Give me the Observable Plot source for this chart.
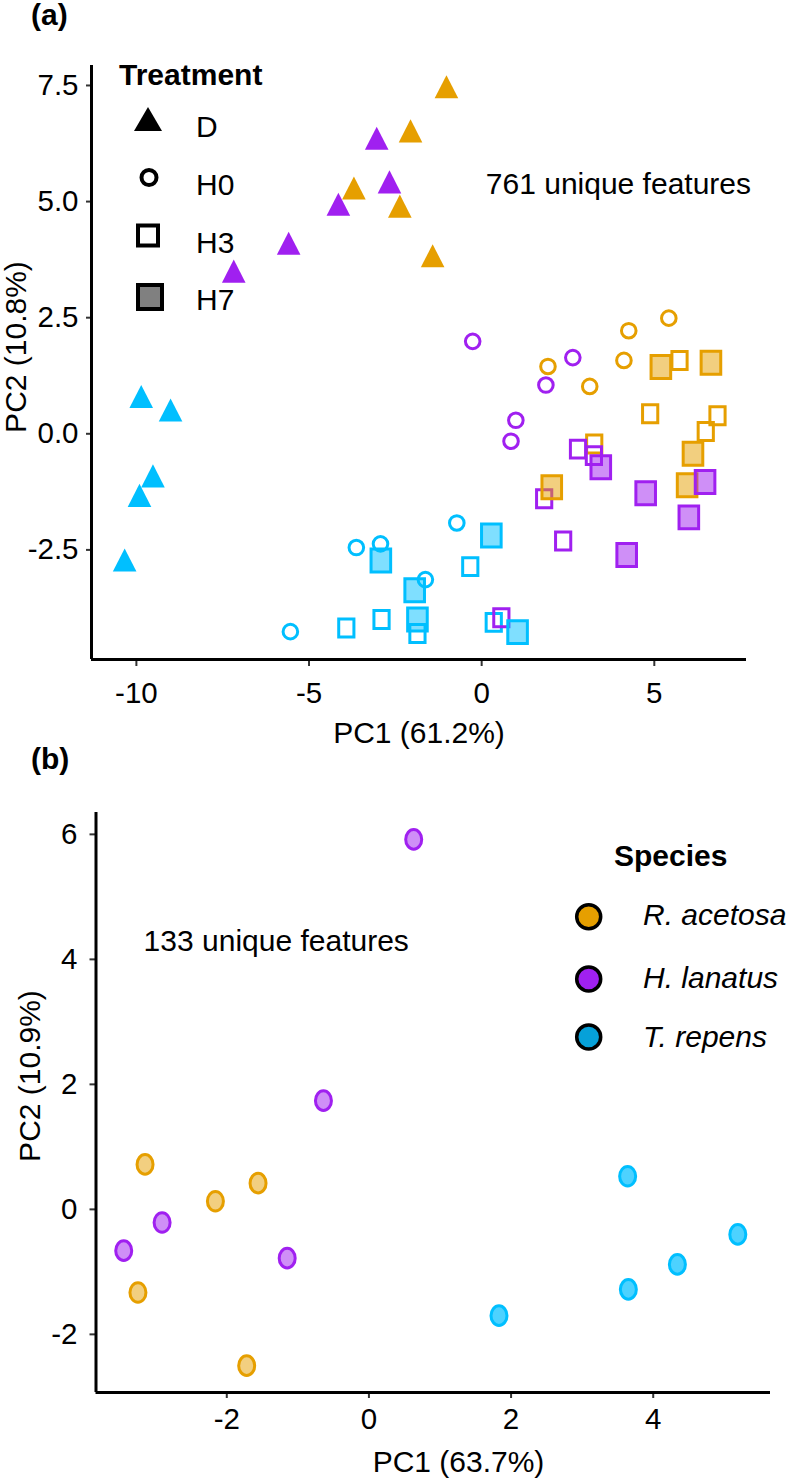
<!DOCTYPE html>
<html><head><meta charset="utf-8">
<script src="https://cdn.jsdelivr.net/npm/d3@7"></script>
<script src="https://cdn.jsdelivr.net/npm/@observablehq/plot@0.6"></script>
<style>
html,body{margin:0;padding:0;background:#fff;overflow:hidden;}
#fig{position:relative;width:787px;height:1480px;background:#fff;}
#fig svg{position:absolute;left:0;overflow:visible;}
</style></head><body><div id="fig"></div>
<script>
// ---------------- Panel (a): PCA scores, [PC1, PC2] per species x treatment ----------------
const ra_D  = [[-1.02,7.39],[-2.06,6.44],[-3.70,5.21],[-2.37,4.82],[-1.42,3.75]];
const ra_H0 = [[1.92,1.45],[3.13,1.02],[4.12,1.58],[4.26,2.22],[5.42,2.49]];
const ra_H3 = [[5.73,1.58],[4.88,0.43],[6.83,0.39],[6.49,0.05],[3.26,-0.22]];
const ra_H7 = [[5.19,1.44],[6.64,1.53],[6.12,-0.43],[2.03,-1.15],[5.95,-1.11]];

const hl_D  = [[-3.04,6.28],[-2.67,5.34],[-4.15,4.86],[-5.59,4.02],[-7.18,3.42]];
const hl_H0 = [[-0.26,1.99],[2.64,1.64],[1.86,1.05],[0.99,0.29],[0.85,-0.16]];
const hl_H3 = [[2.79,-0.33],[3.25,-0.47],[1.81,-1.40],[2.36,-2.31],[0.57,-3.96]];
const hl_H7 = [[3.45,-0.72],[4.75,-1.28],[6.47,-1.04],[6.00,-1.80],[4.20,-2.61]];

const tr_D  = [[-9.86,0.72],[-9.01,0.43],[-9.52,-0.99],[-9.91,-1.41],[-10.34,-2.80]];
const tr_H0 = [[-3.63,-2.45],[-2.93,-2.37],[-1.63,-3.14],[-0.72,-1.92],[-5.54,-4.26]];
const tr_H3 = [[-0.33,-2.86],[-1.86,-4.30],[0.35,-4.06],[-3.92,-4.18],[-2.90,-4.00]];
const tr_H7 = [[0.28,-2.19],[1.04,-4.27],[-1.94,-3.37],[-1.86,-4.00],[-2.92,-2.73]];

// ---------------- Panel (b): PCA scores, [PC1, PC2] per species ----------------
const ra_B = [[-3.15,0.72],[-1.56,0.42],[-2.16,0.13],[-3.25,-1.33],[-1.72,-2.50]];
const hl_B = [[-2.91,-0.21],[-3.45,-0.66],[-1.15,-0.78],[-0.64,1.74],[0.63,5.92]];
const tr_B = [[1.83,-1.70],[3.64,0.53],[3.65,-1.28],[4.34,-0.88],[5.19,-0.40]];

// ---------------- categories, labels, ticks ----------------
const speciesNames = ["R. acetosa", "H. lanatus", "T. repens"];
const treatmentNames = ["D", "H0", "H3", "H7"];
const ticksAx = [-10, -5, 0, 5];
const ticksAy = [-2.5, 0, 2.5, 5, 7.5];
const ticksBx = [-2, 0, 2, 4];
const ticksBy = [-2, 0, 2, 4, 6];
const labelAx = "PC1 (61.2%)", labelAy = "PC2 (10.8%)";
const labelBx = "PC1 (63.7%)", labelBy = "PC2 (10.9%)";
const noteA = "761 unique features", noteB = "133 unique features";

// ---------------- styles ----------------
const FONT = '"Liberation Sans", Arial, Helvetica, sans-serif';
const col = {"R. acetosa": "#E69F00", "H. lanatus": "#A020F0", "T. repens": "#00BFFF"};
const fillB = {"R. acetosa": "#F2CF80", "H. lanatus": "#CF8FF7", "T. repens": "#4DD2FF"};
const legendFillB = {"R. acetosa": "#E69F00", "H. lanatus": "#A020F0", "T. repens": "#06A1D9"};

const groupsA = {
  "R. acetosa": {D: ra_D, H0: ra_H0, H3: ra_H3, H7: ra_H7},
  "H. lanatus": {D: hl_D, H0: hl_H0, H3: hl_H3, H7: hl_H7},
  "T. repens":  {D: tr_D, H0: tr_H0, H3: tr_H3, H7: tr_H7}
};
const groupsB = {"R. acetosa": ra_B, "H. lanatus": hl_B, "T. repens": tr_B};
const drawOrderA = ["R. acetosa", "T. repens", "H. lanatus"];
const rowsA = t => drawOrderA.flatMap(s => groupsA[s][t].map(([pc1, pc2]) => ({pc1, pc2, species: s, treatment: t})));
const rowsB = speciesNames.flatMap(s => groupsB[s].map(([pc1, pc2]) => ({pc1, pc2, species: s})));

// custom symbols (r = half width)
const rectSym = aspect => ({draw(ctx, size) {
  const w = Math.sqrt(size / Math.PI), h = w * aspect;
  ctx.moveTo(-w, -h); ctx.lineTo(w, -h); ctx.lineTo(w, h); ctx.lineTo(-w, h); ctx.closePath();
}});
const triSym = k => ({draw(ctx, size) {
  const r = Math.sqrt(size / Math.PI), h = 2 * r * k;
  ctx.moveTo(0, -2 * h / 3); ctx.lineTo(r, h / 3); ctx.lineTo(-r, h / 3); ctx.closePath();
}});
const ellSym = aspect => ({draw(ctx, size) {
  const rx = Math.sqrt(size / Math.PI), ry = rx * aspect, K = 0.5523;
  ctx.moveTo(rx, 0);
  ctx.bezierCurveTo(rx, ry * K, rx * K, ry, 0, ry);
  ctx.bezierCurveTo(-rx * K, ry, -rx, ry * K, -rx, 0);
  ctx.bezierCurveTo(-rx, -ry * K, -rx * K, -ry, 0, -ry);
  ctx.bezierCurveTo(rx * K, -ry, rx, -ry * K, rx, 0);
  ctx.closePath();
}});

const baseStyle = {fontFamily: FONT, fontSize: "29.5px", color: "#000", background: "transparent", overflow: "visible"};
const xDomA = [-11.3, 7.67], yDomA = [-4.86, 7.93];
const xDomB = [-3.84, 5.65], yDomB = [-2.93, 6.35];

const fig = document.getElementById("fig");

// ---------------- Panel (a) ----------------
const plotA = Plot.plot({
  width: 787, height: 760,
  marginLeft: 91, marginRight: 41, marginTop: 65, marginBottom: 101,
  style: baseStyle,
  color: {type: "identity"},
  x: {domain: xDomA, ticks: ticksAx, tickFormat: d => String(d), tickSize: 7, tickPadding: 16, label: null},
  y: {domain: yDomA, ticks: ticksAy, tickFormat: d => d.toFixed(1), tickSize: 5, tickPadding: 8, label: null},
  marks: [
    Plot.dot(rowsA("D"), {x: "pc1", y: "pc2", symbol: triSym(0.98), r: 11.8, fill: d => col[d.species], stroke: "none"}),
    Plot.dot(rowsA("H0"), {x: "pc1", y: "pc2", r: 7.3, fill: "none", stroke: d => col[d.species], strokeWidth: 3}),
    Plot.dot(rowsA("H3"), {x: "pc1", y: "pc2", symbol: rectSym(1.18), r: 7.6, fill: "none", stroke: d => col[d.species], strokeWidth: 3, strokeLinejoin: "miter"}),
    Plot.dot(rowsA("H7"), {x: "pc1", y: "pc2", symbol: rectSym(1.17), r: 9.8, fill: d => col[d.species], fillOpacity: 0.5, stroke: d => col[d.species], strokeWidth: 3, strokeLinejoin: "miter"}),
    Plot.ruleX([xDomA[0]], {stroke: "#000", strokeWidth: 3}),
    Plot.ruleY([yDomA[0]], {stroke: "#000", strokeWidth: 3}),
    Plot.text([noteA], {x: 0.12, y: 5.38, text: d => d, textAnchor: "start", fontSize: 30, fill: "#000"})
  ]
});
plotA.style.top = "0px";
fig.appendChild(plotA);

// ---------------- Panel (b) ----------------
const plotB = Plot.plot({
  width: 787, height: 740,
  marginLeft: 95.5, marginRight: 17, marginTop: 72, marginBottom: 88,
  style: baseStyle,
  color: {type: "identity"},
  x: {domain: xDomB, ticks: ticksBx, tickFormat: d => String(d), tickSize: 6, tickPadding: 10, label: null},
  y: {domain: yDomB, ticks: ticksBy, tickFormat: d => String(d), tickSize: 6, tickPadding: 12.5, label: null},
  marks: [
    Plot.dot(rowsB, {x: "pc1", y: "pc2", symbol: ellSym(1.22), r: 8, fill: d => fillB[d.species], stroke: d => col[d.species], strokeWidth: 3}),
    Plot.ruleX([xDomB[0]], {stroke: "#000", strokeWidth: 3}),
    Plot.ruleY([yDomB[0]], {stroke: "#000", strokeWidth: 3}),
    Plot.text([noteB], {x: -3.17, y: 4.28, text: d => d, textAnchor: "start", fontSize: 30, fill: "#000"})
  ]
});
plotB.style.top = "740px";
fig.appendChild(plotB);

// tick styling
for (const p of [plotA, plotB]) {
  d3.select(p).selectAll('[aria-label$="axis"] line, [aria-label$="axis tick"] path, [aria-label$="axis tick"] line')
    .attr("stroke", "#333").attr("stroke-width", 2);
}

// ---------------- titles, axis labels, legends ----------------
function txt(sel, x, y, s, opts = {}) {
  return sel.append("text").attr("x", x).attr("y", y)
    .attr("font-family", FONT).attr("font-size", opts.size || 30)
    .attr("font-weight", opts.bold ? "bold" : null)
    .attr("font-style", opts.italic ? "italic" : null)
    .attr("text-anchor", opts.anchor || "start")
    .attr("transform", opts.rotate ? `rotate(-90,${x},${y})` : null)
    .attr("fill", "#000").text(s);
}
const sA = d3.select(plotA);
txt(sA, 31, 25, "(a)", {bold: true});
txt(sA, 419, 743, labelAx, {anchor: "middle"});
txt(sA, 26, 347, labelAy, {anchor: "middle", rotate: true});
// legend (a)
const gA = sA.append("g");
txt(gA, 119, 85, "Treatment", {bold: true});
gA.append("path").attr("d", "M148,107L162,131L134,131Z").attr("fill", "#000");
gA.append("circle").attr("cx", 149).attr("cy", 177.5).attr("r", 7.5).attr("fill", "none").attr("stroke", "#000").attr("stroke-width", 4);
gA.append("rect").attr("x", 138).attr("y", 225.5).attr("width", 20).attr("height", 20).attr("fill", "none").attr("stroke", "#000").attr("stroke-width", 4);
gA.append("rect").attr("x", 138).attr("y", 285).attr("width", 24).attr("height", 24).attr("fill", "#808080").attr("stroke", "#000").attr("stroke-width", 4);
const legY = [137, 195, 253, 310];
treatmentNames.forEach((t, i) => txt(gA, 196, legY[i], t));

const sB = d3.select(plotB);
txt(sB, 31, 29, "(b)", {bold: true});
txt(sB, 458.5, 732, labelBx, {anchor: "middle"});
txt(sB, 40, 336, labelBy, {anchor: "middle", rotate: true});
// legend (b)
const gB = sB.append("g");
txt(gB, 614, 126, "Species", {bold: true});
const legBy = [176.7, 239, 297];
const legBt = [185, 248, 307];
speciesNames.forEach((s, i) => {
  gB.append("circle").attr("cx", 588.7).attr("cy", legBy[i]).attr("r", 12).attr("fill", legendFillB[s]).attr("stroke", "#000").attr("stroke-width", 3.5);
  txt(gB, 643, legBt[i], s, {italic: true});
});
</script></body></html>
